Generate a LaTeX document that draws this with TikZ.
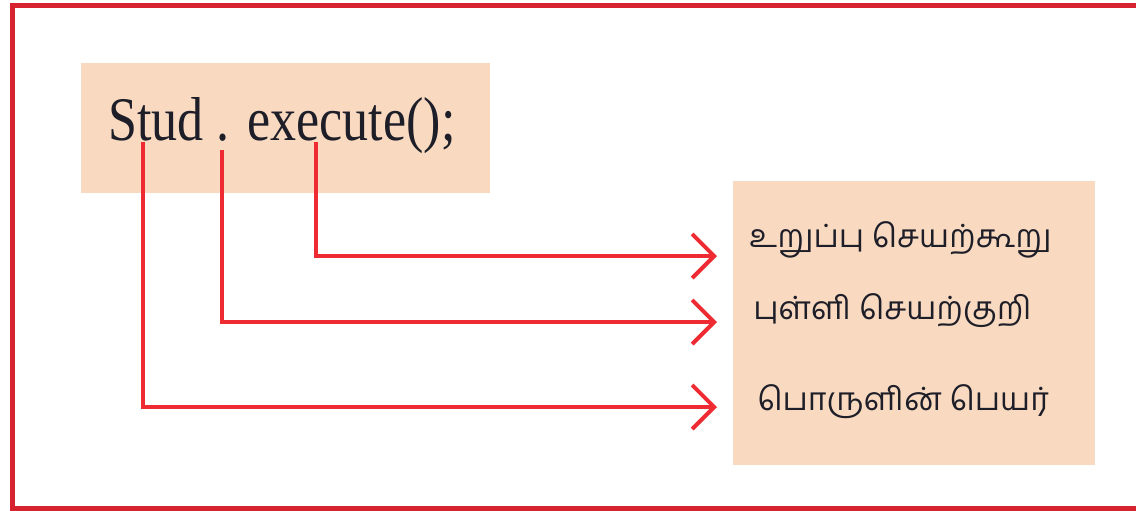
\documentclass[tikz,border=0pt]{standalone}
\usepackage{fontspec}
\setmainfont{Liberation Serif}
\newfontfamily\codefont[FakeStretch=0.84]{Liberation Serif}
\newfontfamily\tamilfont[Script=Tamil]{Hind Madurai}
\usetikzlibrary{positioning,calc,arrows.meta}
\definecolor{peach}{HTML}{F9DAC1}
\definecolor{linkred}{HTML}{EE2B33}
\definecolor{framered}{HTML}{D6232F}
\definecolor{ink}{HTML}{1E1E28}

\begin{document}
\begin{tikzpicture}[x=0.5pt, y=-0.5pt,
    box/.style={fill=peach, inner sep=0pt},
    tamil/.style={anchor=west, inner sep=0pt, text=ink, font=\tamilfont\fontsize{16}{16}\selectfont},
    link/.style={linkred, line width=2pt, -{Straight Barb[length=11pt, width=22pt]}}]
    \clip (0,0) rectangle (1136,510);
    \draw[framered, line width=2.5pt] (12,5.5) rectangle (1160,508);
    % boxes
    \node[box, minimum width=204.5pt, minimum height=65pt] (codebox) at (285.5,127.5) {};
    \node[box, minimum width=181pt, minimum height=142pt] (namebox) at (914,323) {};
    \node[anchor=base west, inner sep=0pt, text=ink, font=\codefont\fontsize{31}{31}\selectfont]
      (code) at (108,140) {Stud . execute();};
    % labels
    \node[tamil] (m1) at (749,240) {உறுப்பு செயற்கூறு};
    \node[tamil] (m2) at (753,311) {புள்ளி செயற்குறி};
    \node[tamil] (m3) at (757,402) {பொருளின் பெயர்};
    % connectors
    \foreach \n/\x/\y/\ty in {1/316/142/256, 2/222/150/322, 3/143/142/407} {
      \coordinate (s\n) at (\x,\y);
      \coordinate (t\n) at (717,\ty);
      \draw[link] (s\n) |- (t\n);
    }
\end{tikzpicture}
\end{document}
